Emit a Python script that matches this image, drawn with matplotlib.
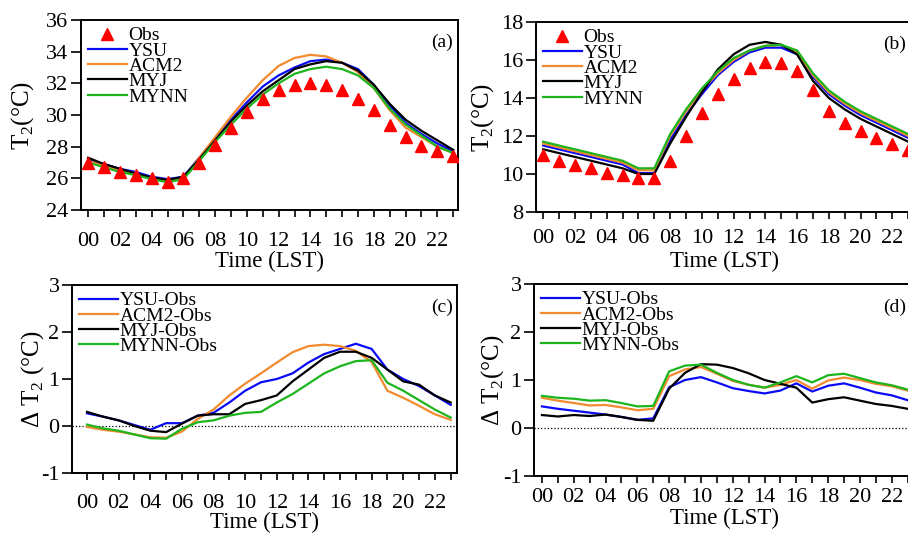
import numpy as np
import matplotlib
matplotlib.use('Agg')
from matplotlib import pyplot as plt

plt.rcParams['font.family'] = ['Liberation Serif', 'DejaVu Serif']
plt.rcParams['mathtext.fontset'] = 'custom'
plt.rcParams['mathtext.rm'] = 'Liberation Serif'
plt.rcParams['axes.unicode_minus'] = False

hours = np.arange(24)
tick_labels = [f"{h:02d}" if h % 2 == 0 else "" for h in hours]

# panel (a): T2, case 1
obs_a = [27.0, 26.7, 26.4, 26.2, 26.0, 25.8, 26.05, 27.0, 28.1, 29.2, 30.2, 31.0,
         31.6, 31.9, 32.0, 31.9, 31.6, 31.0, 30.3, 29.4, 28.6, 28.05, 27.7, 27.4]
ysu_a = [27.2, 26.9, 26.6, 26.4, 26.1, 25.95, 26.1, 27.3, 28.5, 29.7, 30.8, 31.8,
         32.5, 33.0, 33.4, 33.5, 33.3, 32.9, 31.9, 30.6, 29.5, 28.8, 28.2, 27.7]
acm2_a = [27.1, 26.8, 26.5, 26.3, 26.0, 25.8, 26.0, 27.3, 28.6, 29.9, 31.1, 32.2,
          33.1, 33.6, 33.8, 33.7, 33.3, 32.7, 31.7, 30.3, 29.2, 28.6, 28.0, 27.6]
myj_a = [27.3, 26.9, 26.6, 26.3, 26.05, 25.9, 26.1, 27.2, 28.4, 29.6, 30.6, 31.5,
         32.2, 32.9, 33.2, 33.4, 33.3, 32.8, 31.9, 30.7, 29.7, 29.0, 28.4, 27.8]
mynn_a = [27.0, 26.7, 26.4, 26.2, 25.95, 25.75, 25.95, 27.1, 28.3, 29.4, 30.4, 31.3,
          32.0, 32.6, 32.9, 33.05, 32.9, 32.5, 31.7, 30.4, 29.4, 28.7, 28.0, 27.6]

# panel (b): T2, case 2
obs_b = [11.0, 10.7, 10.5, 10.3, 10.05, 9.95, 9.8, 9.8, 10.7, 12.0, 13.2, 14.2,
         15.0, 15.6, 15.9, 15.85, 15.4, 14.4, 13.3, 12.7, 12.25, 11.9, 11.6, 11.25]
ysu_b = [11.5, 11.3, 11.1, 10.9, 10.7, 10.5, 10.05, 10.05, 11.8, 13.1, 14.2, 15.2,
         15.9, 16.4, 16.65, 16.65, 16.3, 15.1, 14.2, 13.6, 13.1, 12.7, 12.3, 11.9]
acm2_b = [11.6, 11.4, 11.2, 11.0, 10.8, 10.6, 10.2, 10.2, 12.0, 13.3, 14.4, 15.3,
          16.0, 16.5, 16.75, 16.8, 16.4, 15.2, 14.3, 13.7, 13.2, 12.8, 12.4, 12.0]
myj_b = [11.3, 11.1, 10.9, 10.7, 10.5, 10.3, 10.0, 10.0, 11.6, 13.0, 14.3, 15.5,
         16.3, 16.8, 16.95, 16.8, 16.3, 14.9, 14.0, 13.4, 12.9, 12.5, 12.1, 11.7]
mynn_b = [11.7, 11.5, 11.3, 11.1, 10.9, 10.7, 10.3, 10.3, 12.1, 13.4, 14.5, 15.4,
          16.1, 16.5, 16.75, 16.8, 16.5, 15.3, 14.4, 13.8, 13.3, 12.9, 12.5, 12.1]

# panel (c): model - obs, case 1
ysu_c = [0.27, 0.2, 0.12, 0.02, -0.08, 0.06, 0.06, 0.22, 0.28, 0.5, 0.75, 0.93,
         1.0, 1.12, 1.35, 1.53, 1.64, 1.75, 1.64, 1.2, 1.0, 0.85, 0.65, 0.45]
acm2_c = [-0.02, -0.08, -0.12, -0.18, -0.24, -0.25, -0.12, 0.15, 0.35, 0.65, 0.9, 1.12,
          1.35, 1.57, 1.7, 1.73, 1.7, 1.6, 1.36, 0.75, 0.6, 0.43, 0.25, 0.13]
myj_c = [0.3, 0.2, 0.12, 0.0, -0.1, -0.13, 0.05, 0.22, 0.25, 0.25, 0.47, 0.55,
         0.65, 0.95, 1.2, 1.45, 1.58, 1.58, 1.45, 1.2, 0.95, 0.88, 0.65, 0.5]
mynn_c = [0.03, -0.05, -0.1, -0.18, -0.26, -0.27, -0.06, 0.08, 0.12, 0.22, 0.28, 0.3,
          0.5, 0.68, 0.9, 1.12, 1.27, 1.38, 1.4, 0.92, 0.75, 0.55, 0.35, 0.18]

# panel (d): model - obs, case 2
ysu_d = [0.45, 0.4, 0.36, 0.32, 0.28, 0.23, 0.17, 0.2, 0.85, 1.0, 1.06, 0.95,
         0.83, 0.77, 0.72, 0.78, 0.93, 0.76, 0.88, 0.93, 0.84, 0.74, 0.68, 0.58]
acm2_d = [0.63, 0.57, 0.52, 0.47, 0.48, 0.43, 0.37, 0.4, 1.08, 1.22, 1.27, 1.13,
          0.98, 0.9, 0.84, 0.9, 1.0, 0.82, 0.99, 1.05, 1.0, 0.92, 0.87, 0.78]
myj_d = [0.27, 0.24, 0.27, 0.25, 0.28, 0.23, 0.17, 0.15, 0.82, 1.15, 1.33, 1.32,
         1.25, 1.14, 1.0, 0.92, 0.84, 0.53, 0.6, 0.64, 0.57, 0.5, 0.46, 0.4]
mynn_d = [0.67, 0.63, 0.61, 0.57, 0.58, 0.52, 0.45, 0.46, 1.18, 1.3, 1.32, 1.15,
          1.0, 0.9, 0.84, 0.95, 1.08, 0.95, 1.1, 1.13, 1.04, 0.95, 0.89, 0.8]

colors = {'YSU': '#0a0af5', 'ACM2': '#f28a2e', 'MYJ': '#000000', 'MYNN': '#1db51d'}

W, H = 908, 535
fig = plt.figure(figsize=(W / 100, H / 100), dpi=100)


def px_axes(left, top, right, bottom):
    return fig.add_axes([left / W, (H - bottom) / H, (right - left) / W, (bottom - top) / H])


def style_axes(ax, ylim, yticks, xlim, ylabel, ylabel_x, tag, tag_x, xpad, labelpad):
    ax.set_xlim(*xlim)
    ax.set_ylim(*ylim)
    ax.set_yticks(yticks)
    ax.set_xticks(hours)
    ax.set_xticklabels(tick_labels)
    ax.tick_params(axis='both', direction='out', labelsize=16, width=1.2)
    ax.tick_params(axis='x', length=5, pad=xpad)
    ax.tick_params(axis='y', length=7, pad=2)
    for sp in ax.spines.values():
        sp.set_linewidth(1.4)
    ax.set_xlabel('Time (LST)', fontsize=16.5, labelpad=labelpad)
    ax.set_ylabel(ylabel, fontsize=18)
    ax.yaxis.set_label_coords(ylabel_x, 0.5)
    ax.text(tag_x, 0.88, tag, transform=ax.transAxes, ha='right', va='center', fontsize=14)
    ax.legend(loc='upper left', frameon=False, fontsize=14, handlelength=2.0,
              handletextpad=0.1, labelspacing=-0.12, borderaxespad=0.15,
              borderpad=0.2)


# top row
for ax_box, obs, ysu, acm2, myj, mynn, ylim, yticks, tag, tag_x, ylx, xpad, lpad in [
        ((81, 20, 458, 210), obs_a, ysu_a, acm2_a, myj_a, mynn_a, (24, 36),
         np.arange(24, 37, 2), '(a)', 0.987, -0.12, 11, -0.5),
        ((536, 22, 913, 212), obs_b, ysu_b, acm2_b, myj_b, mynn_b, (8, 18),
         np.arange(8, 19, 2), '(b)', 0.981, -0.107, 7.5, 1.5)]:
    ax = px_axes(*ax_box)
    ax.plot(hours, obs, linestyle='none', marker='^', color='#ff0000', markersize=9, label='Obs', zorder=3)
    ax.plot(hours, ysu, color=colors['YSU'], lw=1.6, label='YSU')
    ax.plot(hours, acm2, color=colors['ACM2'], lw=1.6, label='ACM2')
    ax.plot(hours, myj, color=colors['MYJ'], lw=1.6, label='MYJ')
    ax.plot(hours, mynn, color=colors['MYNN'], lw=1.6, label='MYNN')
    style_axes(ax, ylim, yticks, (-0.45, 23.3), 'T$_\\mathregular{2}$(°C)', ylx, tag, tag_x, xpad, lpad)

# bottom row
for ax_box, xlim, ysu, acm2, myj, mynn, tag, tag_x, ylabel, ylx, xpad, lpad in [
        ((72, 285, 457, 473), (-0.95, 23.4), ysu_c, acm2_c, myj_c, mynn_c, '(c)', 0.99,
         '$\\Delta$ T$_\\mathregular{2}$ (°C)', -0.067, 10, -0.5),
        ((534, 284, 914, 476), (-0.5, 23.4), ysu_d, acm2_d, myj_d, mynn_d, '(d)', 0.979,
         '$\\Delta$ T$_\\mathregular{2}$(°C)', -0.074, 3.5, 0.5)]:
    ax = px_axes(*ax_box)
    ax.axhline(0, color='black', lw=0.9, linestyle=':')
    ax.plot(hours, ysu, color=colors['YSU'], lw=1.6, label='YSU-Obs')
    ax.plot(hours, acm2, color=colors['ACM2'], lw=1.6, label='ACM2-Obs')
    ax.plot(hours, myj, color=colors['MYJ'], lw=1.6, label='MYJ-Obs')
    ax.plot(hours, mynn, color=colors['MYNN'], lw=1.6, label='MYNN-Obs')
    style_axes(ax, (-1, 3), np.arange(-1, 4, 1), xlim, ylabel, ylx, tag, tag_x, xpad, lpad)

fig.savefig('out.png', dpi=100)
